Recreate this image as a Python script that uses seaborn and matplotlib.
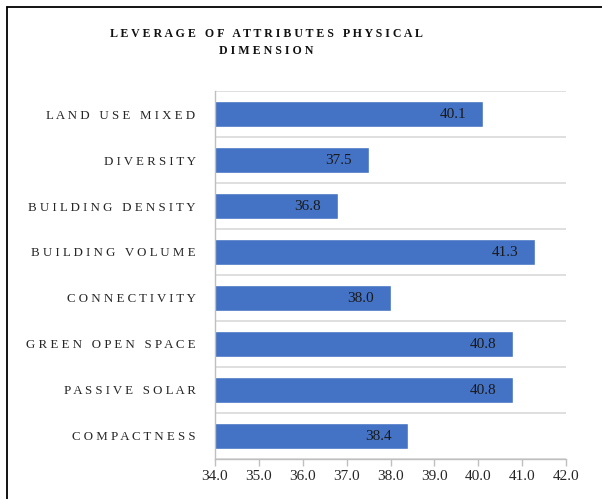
import matplotlib
matplotlib.use("Agg")
import matplotlib.pyplot as plt
from matplotlib.lines import Line2D
import seaborn as sns
import pandas as pd

categories = [
    "LAND USE MIXED",
    "DIVERSITY",
    "BUILDING DENSITY",
    "BUILDING VOLUME",
    "CONNECTIVITY",
    "GREEN OPEN SPACE",
    "PASSIVE SOLAR",
    "COMPACTNESS",
]
values = [40.1, 37.5, 36.8, 41.3, 38.0, 40.8, 40.8, 38.4]
x_ticks = [34.0, 35.0, 36.0, 37.0, 38.0, 39.0, 40.0, 41.0, 42.0]


def spaced(text, gap=" "):
    # fake letter spacing: space between letters, wider gap between words
    return "   ".join(gap.join(word) for word in text.split(" "))


sns.set_theme(style="white")
plt.rcParams["font.family"] = ["Liberation Serif", "DejaVu Serif"]

df = pd.DataFrame({"attr": categories, "value": values})

fig = plt.figure(figsize=(6.02, 4.99), dpi=100)
ax = fig.add_axes([215 / 602, 1 - 459 / 499, (566 - 215) / 602, (459 - 91) / 499])

sns.barplot(data=df, x="value", y="attr", orient="h", color="#4472C4",
            saturation=1, width=0.55, ax=ax)

ax.set_xlim(34, 42)
ax.set_ylim(7.5, -0.5)
ax.set_xticks(x_ticks)
ax.set_xticklabels([f"{t:.1f}" for t in x_ticks], fontsize=11, color="#262626")
ax.set_yticks(range(len(categories)))
ax.set_yticklabels([spaced(c) for c in categories], fontsize=9.3, color="#262626")
ax.set_xlabel("")
ax.set_ylabel("")

# horizontal gridlines between the categories
ax.set_yticks([i - 0.5 for i in range(len(categories) + 1)], minor=True)
ax.grid(which="minor", axis="y", color="#d9d9d9", linewidth=1.2)
ax.tick_params(axis="y", which="both", length=0, pad=14)
ax.tick_params(axis="x", length=5, color="#bfbfbf", width=1, pad=3, bottom=True)

for side in ["top", "right"]:
    ax.spines[side].set_visible(False)
for side in ["left", "bottom"]:
    ax.spines[side].set_color("#bfbfbf")
    ax.spines[side].set_linewidth(1)

# data labels just inside the bar end
for i, v in enumerate(values):
    ax.text(v - 0.38, i, f"{v:.1f}", ha="right", va="center", fontsize=11,
            color="#1a1a1a")

fig.text(266 / 602, 1 - 34 / 499, spaced("LEVERAGE OF ATTRIBUTES PHYSICAL"),
         ha="center", va="center", fontsize=8.6, fontweight="bold", color="#111111")
fig.text(266 / 602, 1 - 51 / 499, spaced("DIMENSION"),
         ha="center", va="center", fontsize=8.6, fontweight="bold", color="#111111")

# chart border (left and top visible)
fig.add_artist(Line2D([6.5 / 602, 6.5 / 602], [0, 1 - 7 / 499],
                      transform=fig.transFigure, color="black", linewidth=1.3))
fig.add_artist(Line2D([6.5 / 602, 1], [1 - 7 / 499, 1 - 7 / 499],
                      transform=fig.transFigure, color="black", linewidth=1.3))

fig.savefig("out.png", dpi=100)
